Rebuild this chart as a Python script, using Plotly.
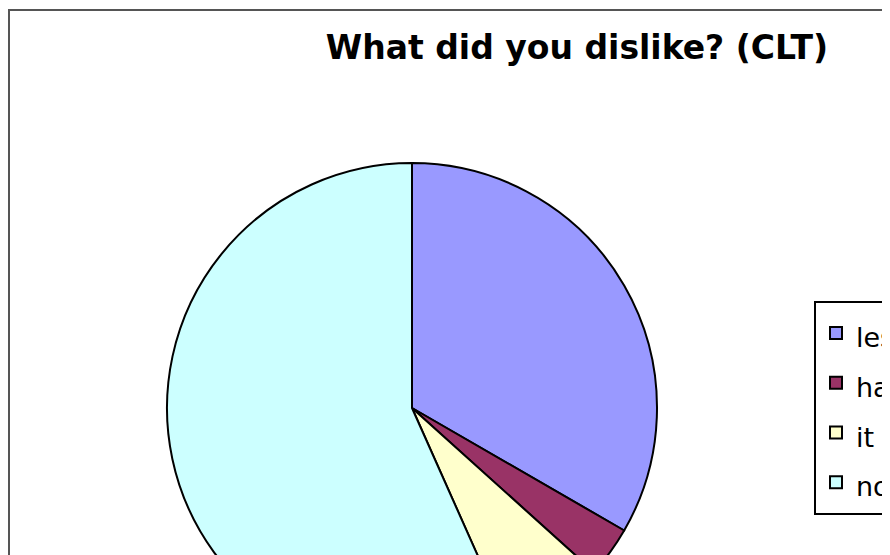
import plotly.graph_objects as go

# ---- data ----
categories = ["less grammar", "hard to understand", "it was boring", "nothing"]
counts = [10, 1, 2, 17]
slice_colors = ["#9999FF", "#993366", "#FFFFCC", "#CCFFFF"]
title_text = "What did you dislike? (CLT)"

W, H = 882, 720

legend_labels = ['<span style="font-size:27px">%s</span>' % c for c in categories]

fig = go.Figure(
    go.Pie(
        labels=legend_labels,
        values=counts,
        sort=False,
        direction="clockwise",
        rotation=0,
        marker=dict(colors=slice_colors, line=dict(color="black", width=2)),
        textinfo="none",
        hoverinfo="label+value+percent",
        domain=dict(x=[159 / W, 649 / W], y=[(H - 645) / H, (H - 155) / H]),
    )
)

fig.update_layout(
    width=W,
    height=H,
    margin=dict(l=0, r=0, t=0, b=0, autoexpand=False),
    paper_bgcolor="white",
    plot_bgcolor="white",
    title=dict(
        text="<b>" + title_text + "</b>",
        font=dict(family="DejaVu Sans", size=33, color="black"),
        x=569 / W,
        xanchor="center",
        xref="container",
        y=1 - 28 / H,
        yanchor="top",
        yref="container",
    ),
    showlegend=True,
    legend=dict(
        x=806 / W,
        xanchor="left",
        y=1 - 293 / H,
        yanchor="top",
        bordercolor="black",
        borderwidth=2,
        bgcolor="white",
        font=dict(family="DejaVu Sans", size=36, color="black"),
        traceorder="normal",
    ),
    shapes=[
        dict(
            type="rect",
            xref="paper",
            yref="paper",
            x0=1 / W,
            x1=1.2,
            y0=-0.2,
            y1=1 - 2 / H,
            line=dict(color="#555555", width=2),
            layer="below",
        )
    ],
)

fig.write_html("out.html")
